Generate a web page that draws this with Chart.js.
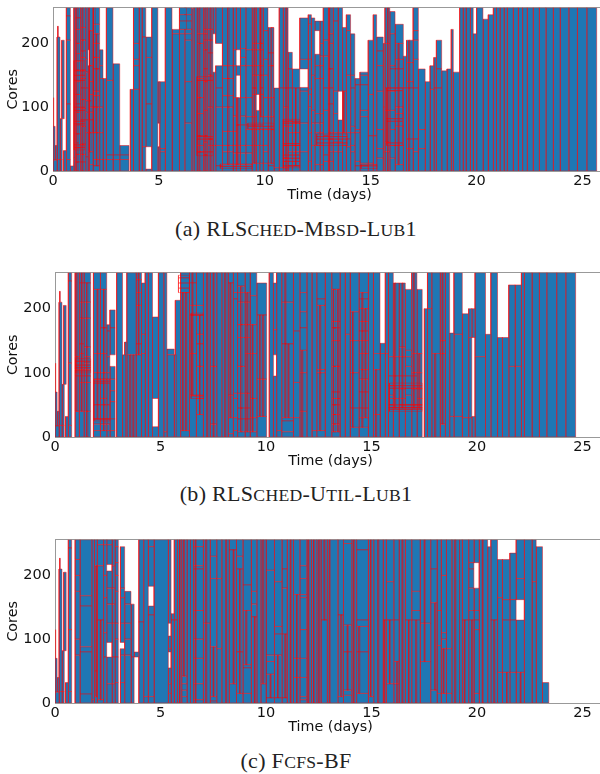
<!DOCTYPE html>
<html><head><meta charset="utf-8">
<script src="https://cdn.jsdelivr.net/npm/chart.js@4/dist/chart.umd.min.js"></script>
<style>
html,body{margin:0;padding:0;background:#fff;width:600px;height:774px;overflow:hidden}
canvas{position:absolute;left:0;filter:blur(.35px)}
.cap{position:absolute;left:0;width:592px;text-align:center;font:22px "Liberation Serif",serif;color:#222;letter-spacing:.3px;white-space:pre}
.cap span{font-size:.8em;text-transform:uppercase}
</style></head><body>
<script>
const xTicks=[0,5,10,15,20,25];
const yTicks=[0,100,200];
const xMax=26.11, yMax=256;
const captionLabels=["(a)","(b)","(c)"];
const captions=["RLSched-Mbsd-Lub1","RLSched-Util-Lub1","Fcfs-BF"];
const xTitle="Time (days)", yTitle="Cores";
// each column: [start day, end day, [core levels separating the stacked jobs]]
const startColumns=[[0,.19,[0,17]],[0,.1,[17,70]],[.1,.19,[17,40]],[.02,.04,[70,115]],[.19,.33,[0,18,210]],[.22,.25,[210,227]],[.33,.44,[0,18,82]],[.41,.53,[82,205]],[.5,.63,[0,32]]];
const columnsA=[...startColumns,[.63,.82,[0,18,105,205,243,256]],[.82,.98,[0,8]],[.98,1.05,[0,20,60,120,256]],[1.05,1.3,[0,14,26,36,58,72,92,105,120,140,158,172,184,200,222,240,256]],[1.3,1.54,[0,14,26,42,70,80,98,112,130,145,158,178,188,205,225,256]],[1.54,1.65,[0,22,60,80,92,110,130,155,175,256]],[1.65,1.72,[0,30,60,110,165]],[1.65,1.72,[190,256]],[1.72,1.89,[0,10,30,60,80,92,100,120,140,165,220,256]],[1.89,2.2,[0,8,18,60,100,118,125,160,178,200,215,230,256]],[2.2,2.36,[0,18,60,100,145,165,190]],[2.36,2.52,[0,18,145]],[2.52,2.83,[0,18,25,142,256]],[2.83,3.15,[0,18,25,168]],[3.15,3.59,[0,18,25,40]],[3.65,3.8,[0,128]],[3.8,4.06,[0,128,165,175,200,256]],[4.06,4.2,[0,256]],[4.2,4.38,[0,38,210,256]],[4.38,4.66,[38,105,178,210]],[4.38,4.66,[0,3]],[4.66,4.95,[0,256]],[4.95,5.04,[0,38]],[4.95,5.04,[75,140]],[5.04,5.3,[0,30,35,140]],[5.3,5.62,[0,256]],[5.62,5.97,[0,215,222]],[5.97,6.22,[0,215,222]],[5.97,6.3,[222,235,245,256]],[6.22,6.55,[0,75,140,205,215,222,235,245,256]],[6.55,6.65,[0,255]],[6.65,6.8,[0,256]],[6.8,7.1,[0,30,40,55,90,115,145,200,215,256]],[7.1,7.3,[0,25,45,55,95,140,160,190,205,215,222,256]],[7.3,7.55,[0,40,50,100,150,185,205,222,256]],[7.55,7.68,[0,40,155]],[7.55,7.68,[215,256]],[7.68,8,[0,8,40,100,130,165]],[7.68,8,[200,256]],[8,8.5,[0,10,30,40,62,100,118,145,165,256]],[8.5,8.65,[0,10,28,40,62,86,115,165,190,256]],[8.65,8.85,[0,10,28,40,72,115]],[8.65,8.85,[150,165]],[8.65,8.85,[190,256]],[8.85,9.1,[0,10,28,40,72,86,115,165,178,192,256]],[9.1,9.4,[0,10,28,40,65,72,85,115,165,190,256]],[9.4,9.6,[0,12,40,65,72,85,120,130,150,165,190,200,256]],[9.6,9.76,[0,12,40,65,72,95]],[9.6,9.76,[120,150,165,190,200,256]],[9.76,9.92,[0,12,40,65,72,85,120,130,150,165,190,200,256]],[9.92,10.15,[0,12,30,40,65,85,115,150,175,220,256]],[10.15,10.43,[0,8,12,65,85,115,165,185,225]],[10.43,10.68,[0,5,130]],[10.68,10.87,[0,5,130,256]],[10.87,11.1,[0,5,20,40,70,100,130,256]],[11.1,11.3,[0,8,30,60,70,78,130,160,186]],[11.3,11.65,[0,8,30,40,60,75,130,160]],
[11.65,12.05,[0,30,75,125,131]],[11.65,12.05,[160,175,240]],[12.05,12.2,[0,15,60,100,120,128,175,230,245]],[12.2,12.36,[0,40,75,95,150,240]],[12.36,12.6,[0,10,40,60,75,90,145,165,183]],[12.36,12.6,[220,235]],[12.6,12.76,[0,10,40,60,75,90,145,165,180,200,235]],[12.76,13,[0,15,25,55,95,130,180,205,256]],[13,13.23,[0,15,30,50,60,105,130,160,200,215,256]],[13.23,13.46,[0,30,45,60,90,125,235,256]],[13.46,13.67,[0,30,45,60,80]],[13.46,13.67,[125,256]],[13.67,13.85,[0,40,60,125,225]],[13.85,14.05,[0,38,50,60,150,220,245]],[14.05,14.25,[0,30,40,60,70,130,150,215]],[14.25,14.49,[0,8,15,60,65,135,145]],[14.49,14.88,[0,8,12,85,95,135,150,155]],[14.88,15.12,[0,12,55,120,205]],[15.12,15.28,[0,10,55,245]],[15.28,15.59,[0,20,35,65,125,165,188,210]],[15.59,15.67,[0,30,100,200]],[15.67,15.9,[0,30,45,95,130,200,256]],[15.9,16.15,[0,20,40,65,95,125,130,160,165,215,250]],[16.15,16.54,[0,10,40,70,90,100,130,160,175,200,230]],[16.54,16.69,[0,130,180]],[16.69,17,[0,35,50,130,140,170,205]],[17,17.25,[0,30,50,130,175,205,220,256]],[17.25,17.57,[0,35,65,160]],[17.57,17.8,[0,140]],[17.8,17.98,[0,128,165]],[17.98,18.1,[0,130,178]],[18.1,18.35,[0,130,160,205]],[18.35,18.6,[0,157]],[18.6,18.8,[0,160]],[18.8,18.9,[0,222]],[18.9,19.2,[0,155]],[19.2,19.36,[0,256]],[19.36,19.5,[0,256]],[19.5,19.7,[0,256]],[19.7,19.84,[0,256]],[19.84,20,[0,215]],[20,20.3,[0,256]],[20.3,20.55,[0,238]],[20.55,20.79,[0,245]],[20.79,20.94,[0,256]],[20.94,21.1,[0,256]],[21.1,21.29,[0,256]],[21.29,21.45,[0,256]],[21.45,21.73,[0,256]],[21.73,21.97,[0,256]],[21.97,22.17,[0,256]],[22.17,22.39,[0,256]],[22.39,22.67,[0,256]],[22.67,22.96,[0,256]],[22.96,23.27,[0,256]],[23.27,23.62,[0,256]],[23.62,23.94,[0,256]],[23.94,24.35,[0,256]],[24.35,24.76,[0,256]],[24.76,25.2,[0,256]],[25.2,25.67,[0,256]]];
const detailA=[[1,1.5,[33,37,41,74,78,95,100,142,150,157,173]],[1.12,1.2,[0,14,26,44,58,92,120,158,200,256]],[1.38,1.45,[0,26,42,70,112,158,205,256]],[1.72,1.8,[30,60,110,165,220]],[1.9,2,[60,100,178,256]],[2.05,2.12,[8,60,100,160,215]],[6.8,7.55,[24,30,50,54,142,148]],[6.9,6.98,[0,30,55,115,200,256]],[7.18,7.25,[0,25,55,140,190,256]],[7.42,7.48,[0,50,150,205,256]],[7.9,9.4,[4,7,11]],[8.25,8.32,[10,40,100,145,256]],[8.7,8.77,[10,72,115]],[9.2,10.4,[66,70,75]],[9.5,9.55,[12,72,130,256]],[9.8,9.85,[85,150,200,256]],[10.3,10.4,[12,65,165,225]],[10.87,11.65,[5,8,15,20,25,40,43,75,78,81]],[11,11.05,[0,130,256]],[11.45,11.5,[8,75,130]],[12.45,13.9,[40,44,50,54,58]],[13.05,13.12,[0,60,160,256]],[13.72,13.76,[60,125]],[14.55,15.3,[4,8,10]],[15.75,16.5,[40,44,78,82,126,130]],[15.8,15.85,[0,45,256]],[16.3,16.36,[10,100,200]],[16.8,16.85,[0,130,205]]];
const columnsB=[...startColumns,[.63,.79,[0,18,115,243,256]],[.95,1.15,[0,40,95,105,125,256]],[1.15,1.37,[0,40,85,95,105,130,145,185,210,240,256]],[1.37,1.69,[0,40,85,95,105,115,125,140,185,210,240,256]],[1.82,2.15,[0,10,20,28,50,90,100,130,230,256]],[2.15,2.45,[0,10,20,28,50,60,90,100,130,170,230,256]],[2.45,2.6,[0,10,20,28,50,90,100,125,165,175]],[2.6,2.85,[0,10,28,55,72,90,110]],[2.6,2.85,[128,170,198]],[2.92,3.2,[0,256]],[3.2,3.35,[0,128]],[3.3,3.4,[0,148]],[3.4,3.84,[0,128,256]],[3.84,4.1,[0,128,145,205,225,245,256]],[4.1,4.27,[0,130,160,240]],[4.27,4.42,[0,256]],[4.42,4.62,[0,256]],[4.62,4.9,[60,187]],[4.62,4.9,[0,16]],[4.9,5.15,[0,256]],[5.15,5.3,[0,8,256]],[5.3,5.65,[0,128,137]],[5.65,5.75,[0,128]],[5.7,5.95,[0,213]],[5.95,6.37,[0,10,225,256]],[6.37,6.7,[0,65,130,190,205,240,256]],[6.7,7.03,[0,35,60,65,110,145,160,190,205,256]],[7.03,7.35,[0,256]],[7.35,7.66,[0,20,110,256]],[7.66,7.9,[0,256]],[7.9,8.2,[0,256]],[8.2,8.45,[0,5,30,65,240,256]],[8.45,8.65,[0,10,30,60,68,215,225,256]],[8.65,9,[0,8,28,45,68,110,155,175,210,225,235,256]],[9,9.24,[0,8,28,45,68,130,155,175,210,225,256]],[9.24,9.56,[0,8,30,60,130,175,220,256]],[9.56,10.03,[0,32,90,190,240]],[10.15,10.35,[0,256]],[10.35,10.5,[0,95]],[10.35,10.5,[128,167,240]],[10.5,10.74,[0,10,256]],[10.74,11.3,[0,8,25,30,145,210,256]],[11.3,11.6,[0,30,85,165,256]],
[11.6,11.93,[0,40,100,135,170,195,225,256]],[11.93,12.17,[0,256]],[12.17,12.4,[0,10,256]],[12.4,12.8,[0,10,100,105,205,215,256]],[12.8,13.11,[0,256]],[13.11,13.5,[0,8,20,35,50,60,70,110,150,170,180,230,256]],[13.5,13.75,[0,256]],[13.75,13.98,[0,160,256]],[13.98,14.4,[0,15,45,100,150,195,256]],[14.4,14.85,[0,15,30,45,70,90,105,130,150,165,180,200,215,225,256]],[14.85,15.09,[0,256]],[15.09,15.4,[0,35,105,130,256]],[15.4,15.65,[0,130,146]],[15.65,15.8,[0,130,256]],[15.8,16.03,[0,45,50,60,65,80,95,125,256]],[16.03,16.3,[0,45,60,95,125,240]],[16.3,16.6,[0,45,50,60,75,95,125,140,240]],[16.6,16.9,[0,45,50,65,95,110,125,135,230]],[16.9,17.15,[0,45,50,75,95,100,130,256]],[17.15,17.4,[0,45,50,60,75,100,130,230]],[17.5,17.65,[0,200]],[17.65,17.85,[0,200,256]],[17.85,18.25,[0,130,256]],[18.25,18.5,[0,20,130,150,256]],[18.5,18.7,[0,256]],[18.7,18.9,[0,32,162]],[18.9,19.3,[0,32,160,256]],[19.3,19.6,[0,30,192]],[19.6,19.75,[0,30,155,200]],[19.75,19.9,[0,32]],[19.75,19.9,[155,200]],[19.9,20.4,[0,125,256]],[20.4,20.65,[0,160]],[20.65,20.97,[0,256]],[20.97,21.2,[0,155]],[21.2,21.5,[0,155]],[21.5,21.8,[0,110,237]],[21.8,22.1,[0,110,237]],[22.1,22.24,[0,256]],[22.24,22.6,[0,256]],[22.6,22.95,[0,256]],[22.95,23.3,[0,256]],[23.3,23.77,[0,256]],[23.77,24.2,[0,256]],[24.2,24.67,[0,256]]];
const detailB=[[.98,1.69,[100,103,108,112,118,122]],[1,1.07,[40,125,256]],[1.25,1.3,[40,130,185,256]],[1.5,1.56,[0,40,140,240]],[1.85,2.6,[25,28,84,87,90]],[2,2.05,[28,50,100,230]],[2.3,2.36,[10,50,100,170,230]],[3.55,3.6,[0,128]],[3.7,3.75,[0,128]],[3.95,4,[128,205,256]],[5.85,6.37,[225,232,240,248,252]],[6.05,6.1,[10,225]],[6.2,6.25,[10,225]],[6.5,6.55,[65,190,256]],[6.85,6.9,[35,110,190]],[6.45,7.03,[60,64,190,193]],[7.2,7.25,[0,256]],[7.5,7.55,[0,110,256]],[8.05,8.1,[0,256]],[8.3,8.35,[30,240]],[8.8,8.87,[8,45,110,175,235]],[9.1,9.15,[8,68,175,225]],[9.35,9.4,[8,60,175]],[9.7,9.75,[32,190]],[9.85,9.9,[32,190]],[10.9,10.95,[30,145,256]],[11.05,11.1,[30,145]],[11.7,11.75,[0,135]],[12.55,12.6,[10,100,205]],[13.2,13.3,[8,20,35,50,110,170,230]],[13.4,13.45,[8,60,110,230]],[14.1,14.15,[15,100,195]],[14.55,14.6,[15,105,165,225]],[14.7,14.75,[30,130,200]],[15.2,15.25,[0,105]],[15.85,17.4,[40,43,46,50,76,80,84]],[16.1,16.15,[45,95,240]],[16.45,16.5,[45,125,240]],[17,17.05,[45,100,256]],[17.25,17.3,[45,130]],[18,18.05,[0,130]],[18.35,18.4,[20,130,256]]];
const columnsC=[...startColumns,[.63,.79,[0,18,115,243,256]],[.95,1.18,[0,75,100,175,200,225,256]],[1.18,1.74,[0,14,80,88,152,168,256]],[1.74,1.87,[0,5,256]],[1.87,2,[0,10,50,215,256]],[2,2.3,[0,5,130,215,248,256]],[2.3,2.45,[0,72,110,165,200,248,256]],[2.45,2.7,[0,30,72]],[2.45,2.7,[95,125,155,180,207]],[2.45,2.7,[217,248,256]],[2.7,2.84,[0,30,72,125,155,180,215,256]],[2.84,3,[0,32,72,100,125,175,200,220,245,256]],[3.1,3.3,[0,32,75,85]],[3.1,3.3,[95,125,165,180,245]],[3.3,3.6,[0,75,100,125,155,175]],[3.6,3.75,[0,72,155]],[3.75,3.97,[72,80]],[3.97,4.2,[0,127,256]],[4.2,4.42,[0,10,256]],[4.42,4.69,[0,10,138,152]],[4.42,4.69,[183,245,256]],[4.69,5.37,[0,256]],[5.37,5.5,[0,15,30,55]],[5.37,5.5,[80,85,105]],[5.37,5.5,[125,256]],[5.5,5.65,[0,130,140]],[5.65,5.8,[0,130,256]],[5.8,6,[0,256]],[6,6.25,[0,10,20,30,42,256]],[6.25,6.56,[0,256]],[6.56,7.03,[0,5,30,70,100,145,210,215,245,256]],[7.03,7.35,[0,125,256]],[7.35,7.66,[0,3,10,88,195,230,256]],[7.66,7.9,[0,85,195,256]],[7.9,8.25,[0,256]],[8.25,8.6,[0,30,240,256]],[8.6,8.9,[0,15,80,210,230,256]],[8.9,9.3,[0,15,55,60,145,185,256]],[9.3,9.56,[0,135,155,175,256]],[9.56,9.75,[0,256]],[9.75,10,[0,30,256]],[10,10.4,[0,8,45,65,75,208,256]],[10.4,10.75,[0,8,75,108,120,190,256]],[10.75,11,[0,8,108,180,210,256]],[11,11.3,[0,256]],[11.3,11.6,[0,40,70,170,256]],
[11.6,11.93,[0,5,10,40,70,115,165,170,195,215,256]],[11.93,12.15,[0,256]],[12.15,12.4,[0,256]],[12.4,12.6,[0,256]],[12.6,12.9,[0,130,256]],[12.9,13.4,[0,256]],[13.4,13.67,[0,10,138,256]],[13.67,14.06,[0,12,20,80,122,250,256]],[14.06,14.29,[0,256]],[14.29,14.85,[0,15,80,120,130,240,256]],[14.85,15.1,[0,10,256]],[15.1,15.55,[0,256]],[15.55,15.7,[0,130,256]],[15.7,16.05,[0,30,130,190,256]],[16.05,16.3,[0,30,65,130,256]],[16.3,16.6,[0,256]],[16.6,16.9,[0,130,256]],[16.9,17.3,[0,130,145,175,256]],[17.3,17.8,[0,65,125,256]],[17.8,18.1,[0,20,157,210,256]],[18.1,18.3,[0,15,90,145,256]],[18.3,18.55,[0,15,85,100,110,200,256]],[18.55,18.8,[0,15,85,256]],[18.8,19.3,[0,256]],[19.3,19.6,[0,130,256]],[19.6,19.85,[0,130,145,180,210,220,256]],[19.85,20.1,[0,15,115,130,145,180]],[19.85,20.1,[220,256]],[20.1,20.5,[0,256]],[20.5,20.65,[0,245]],[20.65,20.97,[0,130,256]],[20.97,21.2,[0,48,165,225]],[21.2,21.55,[0,48,130,162,225]],[21.55,21.85,[0,48,130,162,235]],[21.85,22.24,[0,48,130]],[21.85,22.24,[162,195,256]],[22.24,22.6,[0,256]],[22.6,22.8,[0,190,256]],[22.8,23.1,[0,245]],[23.1,23.4,[0,32]]];
const detailC=[[1.95,2,[10,215]],[2.15,2.2,[5,130]],[5.9,5.95,[0,256]],[6.1,6.14,[42,256]],[6.4,6.44,[0,256]],[6.65,6.7,[0,256]],[7.15,7.2,[0,256]],[7.5,7.54,[10,88]],[8.1,8.14,[0,256]],[8.45,8.5,[30,240]],[8.75,8.8,[15,210]],[9.05,9.1,[60,145]],[9.45,9.5,[0,135]],[9.85,9.9,[30,256]],[10.2,10.25,[8,45]],[10.55,10.6,[8,75]],[10.9,10.95,[8,108]],[11.15,11.2,[0,256]],[11.45,11.5,[0,170]],[12,12.04,[0,256]],[12.25,12.3,[0,256]],[12.5,12.55,[0,256]],[12.75,12.8,[130,256]],[13,13.05,[0,256]],[13.55,13.6,[10,138]],[13.85,13.9,[20,122]],[14.15,14.2,[0,256]],[14.4,14.45,[15,120]],[14.95,15,[10,256]],[15.3,15.35,[0,256]],[15.6,15.64,[0,130]],[15.85,15.9,[30,130]],[16.2,16.25,[0,65]],[16.45,16.5,[0,256]],[16.75,16.8,[0,130]],[17.1,17.15,[0,130]],[17.5,17.55,[65,256]],[18,18.05,[20,157]],[18.4,18.45,[15,85]],[18.95,19,[0,256]],[19.15,19.19,[0,256]],[19.4,19.45,[0,130]],[19.75,19.8,[0,130]],[20.25,20.3,[0,256]],[20.8,20.85,[0,130]],[21.4,21.45,[0,48]],[22.05,22.1,[0,48]]];

const panels=[
 {cols:columnsA,detail:detailA,left:53,top:6,h:164,cap:216},
 {cols:columnsB,detail:detailB,left:55,top:271,h:165,cap:481},
 {cols:columnsC,detail:detailC,left:55,top:538,h:164,cap:748}];
const tickFont={family:"DejaVu Sans",size:14.5};
const spine={display:true,color:"#999",width:1};
const autoTop=11;
function rectSets(cols,isDetail){
 const out=[];
 cols.forEach(([a,b,lv])=>{
  for(let i=0;i<lv.length-1;i++){
   out.push({data:[{x:a,y:lv[i]},{x:b,y:lv[i]},{x:b,y:lv[i+1]},{x:a,y:lv[i+1]},{x:a,y:lv[i]}],
     fill:isDetail?false:"shape",backgroundColor:"#1f77b4",borderColor:isDetail?"rgba(255,0,0,.38)":"rgba(255,0,0,.45)",borderWidth:1,pointRadius:0,tension:0,borderJoinStyle:"miter"});
  }
 });
 return out;
}
panels.forEach((p,i)=>{
 const c=document.createElement("canvas");
 const H=p.h+36+autoTop;
 c.width=606;c.height=H;c.style.top=(p.top-autoTop)+"px";c.style.width="606px";c.style.height=H+"px";
 document.body.appendChild(c);
 new Chart(c,{type:"line",data:{datasets:[...rectSets(p.detail,true),...rectSets(p.cols,false)]},options:{
  responsive:false,animation:false,parsing:false,normalized:true,devicePixelRatio:1,
  layout:{autoPadding:false,padding:{top:1,bottom:0,left:0,right:0}},
  plugins:{legend:{display:false},tooltip:{enabled:false}},
  events:[],
  scales:{
   x:{type:"linear",min:0,max:xMax,position:"bottom",grid:{display:false,drawTicks:false},border:spine,
      ticks:{font:tickFont,color:"#111",padding:2,maxRotation:0,autoSkip:false,callback:v=>v},
      afterBuildTicks:a=>{a.ticks=xTicks.map(v=>({value:v}));},
      afterFit:a=>{a.height=35;},
      title:{display:true,text:xTitle,font:{family:"DejaVu Sans",size:14.3},color:"#111",padding:{top:0,bottom:2}}},
   xTop:{type:"linear",min:0,max:xMax,position:"top",grid:{display:false,drawTicks:false},border:spine,
      ticks:{display:false},afterFit:a=>{a.height=0;}},
   y:{type:"linear",min:0,max:yMax,grid:{display:false,drawTicks:false},border:spine,
      ticks:{font:tickFont,color:"#111",padding:4,callback:v=>v},
      afterBuildTicks:a=>{a.ticks=yTicks.map(v=>({value:v}));},
      afterFit:a=>{a.width=p.left;},
      title:{display:true,text:yTitle,font:{family:"DejaVu Sans",size:14.3},color:"#111",padding:{top:5,bottom:0}}}
  }}});
 const d=document.createElement("div");d.className="cap";d.style.top=p.cap+"px";
 d.innerHTML=captionLabels[i]+" "+captions[i].replace(/[a-z]+/g,m=>"<span>"+m+"</span>");
 document.body.appendChild(d);
});
</script></body></html>
